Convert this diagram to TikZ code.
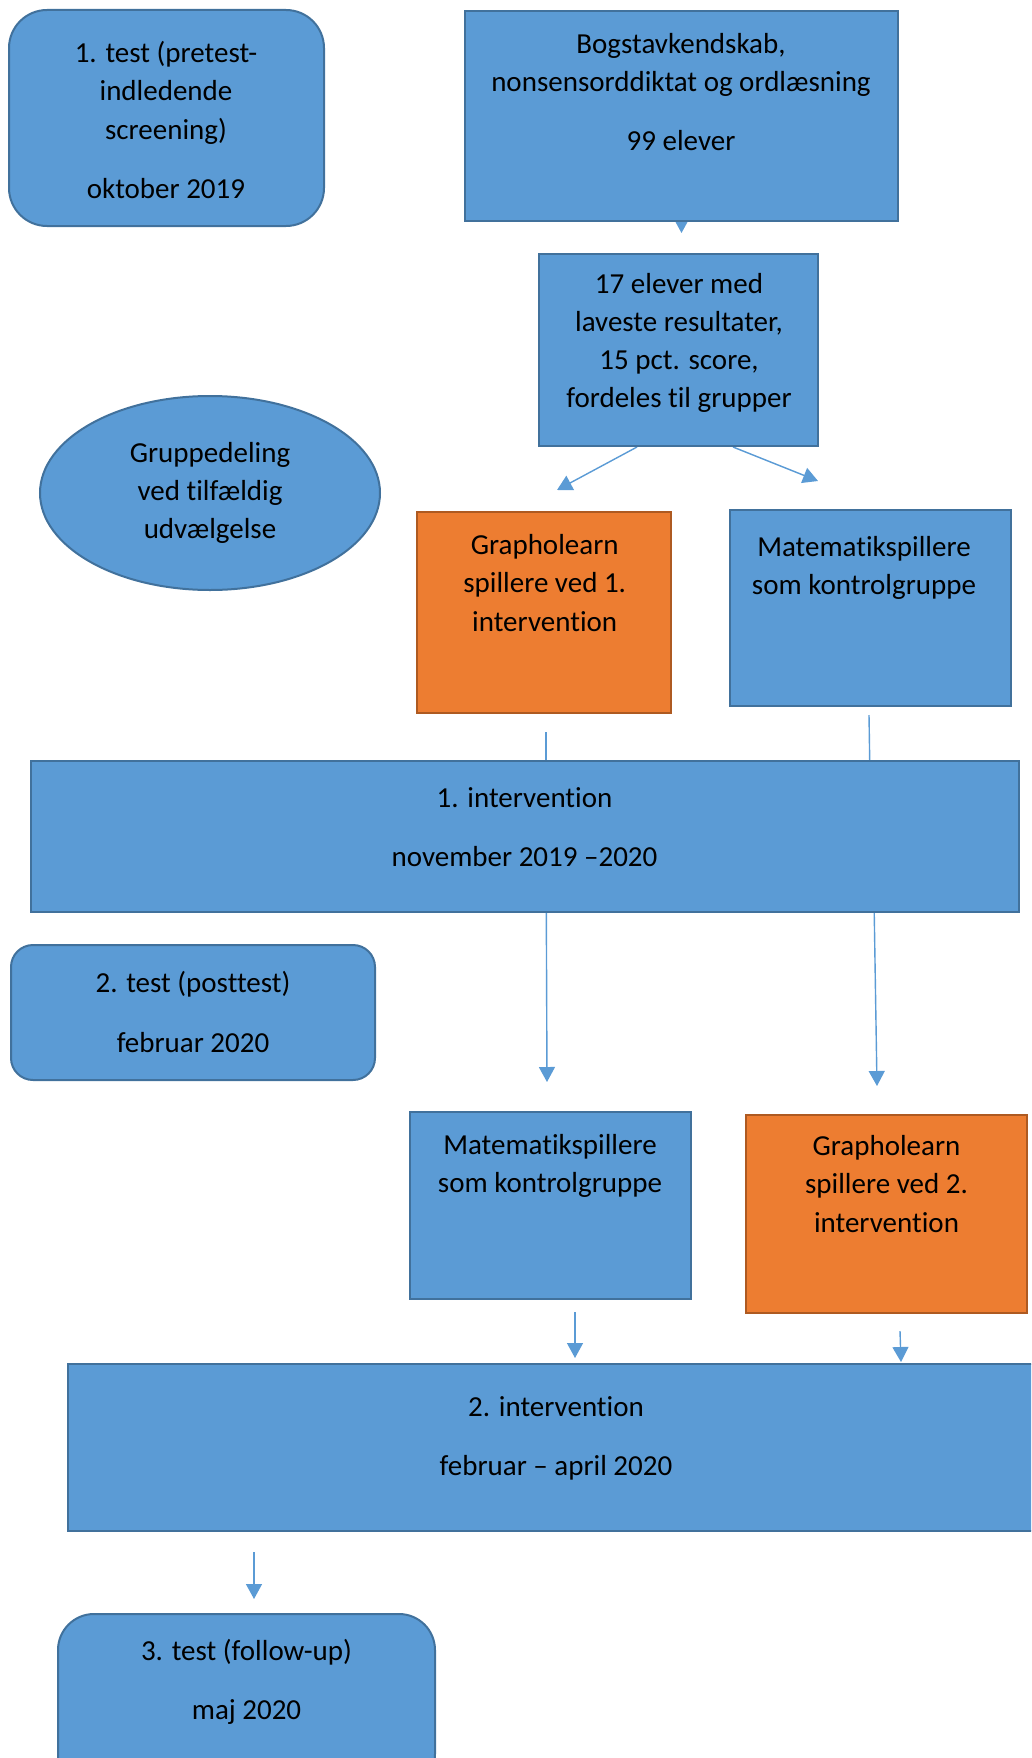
\documentclass[tikz,border=0pt]{standalone}
\usepackage{fontspec}
\setmainfont[Ligatures=NoCommon]{Carlito}
\usetikzlibrary{arrows.meta,shapes.geometric,backgrounds}

\definecolor{boxblue}{HTML}{5B9BD5}
\definecolor{boxline}{HTML}{41719C}
\definecolor{boxorange}{HTML}{ED7D31}
\definecolor{orangeline}{HTML}{AE5A21}

\newcommand{\boxfont}{\fontsize{29}{38.2}\selectfont}

\tikzset{
  bluebox/.style={draw=boxline, fill=boxblue, line width=2pt, inner sep=0pt},
  orangebox/.style={draw=orangeline, fill=boxorange, line width=2pt, inner sep=0pt},
  boxtext/.style={align=center, font=\boxfont, inner sep=0pt},
  arr/.style={draw=boxblue, line width=1.4pt, -{Triangle[length=15pt,width=16pt]}},
}

\begin{document}
\begin{tikzpicture}[x=1pt,y=-1pt]
\clip (0,0) rectangle (1031,1758);

% Boxes
\node[bluebox, rounded corners=38pt, minimum width=315pt, minimum height=216pt] (test1) at (166.5,118) {};
\node[boxtext] (test1txt) at (166,120) {1. test (pretest-\\indledende\\screening)\\[21pt]oktober 2019};

\node[bluebox, minimum width=433pt, minimum height=210pt] (bog) at (681.5,116) {};
\node[boxtext] (bogtxt) at (681,92) {Bogstavkendskab,\\nonsensorddiktat og ordlæsning\\[21pt]99 elever};

\node[bluebox, minimum width=279pt, minimum height=192pt] (n17) at (678.5,350) {};
\node[boxtext] (n17txt) at (679,343) {17 elever med\\laveste resultater,\\15 pct. score,\\fordeles til grupper};

\node[bluebox, ellipse, minimum width=340pt, minimum height=194pt, align=center, font=\boxfont] (random) at (210,493) {Gruppedeling\\ved tilfældig\\udvælgelse};

\node[orangebox, minimum width=254pt, minimum height=201pt] (gl1) at (544,612.5) {};
\node[boxtext] (gl1txt) at (544.7,583) {Grapholearn\\spillere ved 1.\\intervention};

\node[bluebox, minimum width=281pt, minimum height=196pt] (mat1) at (870.5,608) {};
\node[boxtext] (mat1txt) at (864,568) {Matematikspillere\\som kontrolgruppe};

\node[bluebox, minimum width=988pt, minimum height=151pt] (int1) at (525,836.5) {};
\node[boxtext] (int1txt) at (524.5,827) {1. intervention\\[21pt]november 2019 –2020};

\node[bluebox, rounded corners=22pt, minimum width=364pt, minimum height=135pt] (test2) at (193,1012.5) {};
\node[boxtext] (test2txt) at (193,1012) {2. test (posttest)\\[21pt]februar 2020};

\node[bluebox, minimum width=281pt, minimum height=187pt] (mat2) at (550.5,1205.5) {};
\node[boxtext] (mat2txt) at (550,1166) {Matematikspillere\\som kontrolgruppe};

\node[orangebox, minimum width=281pt, minimum height=198pt] (gl2) at (886.5,1214) {};
\node[boxtext] (gl2txt) at (886.5,1184) {Grapholearn\\spillere ved 2.\\intervention};

\node[bluebox, minimum width=976pt, minimum height=167pt] (int2) at (556,1447.5) {};
\node[boxtext] (int2txt) at (556,1438) {2. intervention\\[21pt]februar – april 2020};

\node[bluebox, rounded corners=36pt, minimum width=377pt, minimum height=176pt] (test3) at (246.5,1702) {};
\node[boxtext] (test3txt) at (246.5,1682) {3. test (follow-up)\\[21pt]maj 2020};

% Arrows, behind the boxes
\begin{pgfonlayer}{background}
\draw[arr] (bog.center) -- ([yshift=-11pt]bog.south);
\draw[arr] ([xshift=-41.5pt]n17.south) -- ([xshift=13pt,yshift=21pt]gl1.north);
\draw[arr] ([xshift=54.5pt]n17.south) -- ([xshift=-52.5pt,yshift=28pt]mat1.north);
\draw[arr] ([xshift=2pt,yshift=-18pt]gl1.south) -- ([xshift=21pt,yshift=-20pt]int1.north);
\draw[arr] ([xshift=-1.5pt,yshift=-8pt]mat1.south) -- ([xshift=345pt,yshift=-20pt]int1.north);
\draw[arr] ([xshift=21pt]int1.center) -- ([xshift=-3.5pt,yshift=29pt]mat2.north);
\draw[arr] ([xshift=348pt]int1.center) -- ([xshift=-9.5pt,yshift=28pt]gl2.north);
\draw[arr] ([xshift=24.5pt,yshift=-12pt]mat2.south) -- ([xshift=19pt,yshift=5pt]int2.north);
\draw[arr] ([xshift=13.5pt,yshift=-17pt]gl2.south) -- ([xshift=345pt,yshift=1pt]int2.north);
\draw[arr] ([xshift=-302pt,yshift=-20pt]int2.south) -- ([xshift=7.5pt,yshift=14pt]test3.north);
\end{pgfonlayer}
\end{tikzpicture}
\end{document}
